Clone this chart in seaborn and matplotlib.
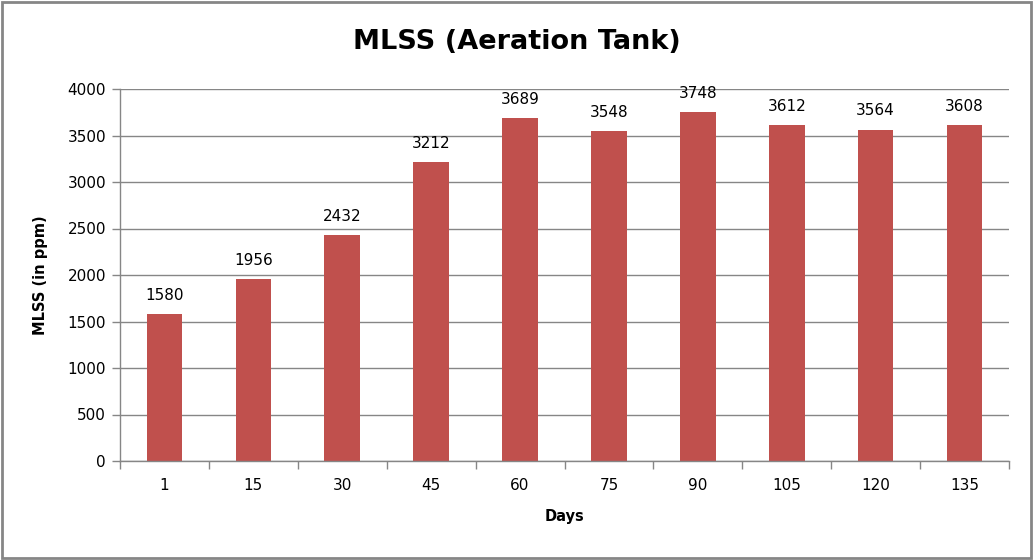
import matplotlib
matplotlib.use("Agg")
import matplotlib.pyplot as plt
import seaborn as sns
import pandas as pd
import numpy as np
from matplotlib.ticker import FixedLocator
from matplotlib.patches import Rectangle

days = ["1", "15", "30", "45", "60", "75", "90", "105", "120", "135"]
mlss = [1580, 1956, 2432, 3212, 3689, 3548, 3748, 3612, 3564, 3608]
yticks = [0, 500, 1000, 1500, 2000, 2500, 3000, 3500, 4000]

sns.set_theme(style="white")
plt.rcParams['font.family'] = ['DejaVu Sans']
plt.rcParams['text.color'] = 'black'
plt.rcParams['axes.labelcolor'] = 'black'
plt.rcParams['xtick.color'] = 'black'
plt.rcParams['ytick.color'] = 'black'

df = pd.DataFrame({"Days": days, "MLSS": mlss})

fig = plt.figure(figsize=(10.33, 5.6), dpi=100)
ax = fig.add_axes([120/1033, 1-461/560, 889/1033, 372/560])

sns.barplot(data=df, x="Days", y="MLSS", order=days, color="#C0504D",
            saturation=1, width=0.4, linewidth=0, edgecolor="none", ax=ax)

ax.set_ylim(0, 4000)
ax.set_xlim(-0.5, len(days)-0.5)
ax.set_yticks(yticks)
ax.yaxis.grid(True, color="#868686", linewidth=1)
ax.set_axisbelow(True)
for s in ["top", "right"]:
    ax.spines[s].set_visible(False)
for s in ["left", "bottom"]:
    ax.spines[s].set_color("#868686")
    ax.spines[s].set_linewidth(1)

ax.tick_params(axis="x", which="major", length=0, pad=12, labelsize=11, labelcolor="black")
ax.xaxis.set_minor_locator(FixedLocator(np.arange(-0.5, len(days), 1)))
ax.tick_params(axis="x", which="minor", length=6, color="#868686", width=1, bottom=True)
ax.tick_params(axis="y", which="major", length=6, color="#868686", width=1, left=True,
               labelsize=11, pad=4, labelcolor="black")

for c in ax.containers:
    ax.bar_label(c, labels=[str(v) for v in mlss], padding=8, fontsize=11, color="black")

ax.set_xlabel("Days", fontsize=10.5, fontweight="bold", labelpad=12, color="black")
ax.set_ylabel("MLSS (in ppm)", fontsize=10.5, fontweight="bold", labelpad=14, color="black")
fig.suptitle("MLSS (Aeration Tank)", fontsize=19.5, fontweight="bold", y=1-42/560,
             va="center", color="black")

fig.patches.append(Rectangle((0.002, 0.004), 0.996, 0.992, transform=fig.transFigure,
                             fill=False, edgecolor="#868686", linewidth=2))

fig.savefig("out.png", dpi=100)
